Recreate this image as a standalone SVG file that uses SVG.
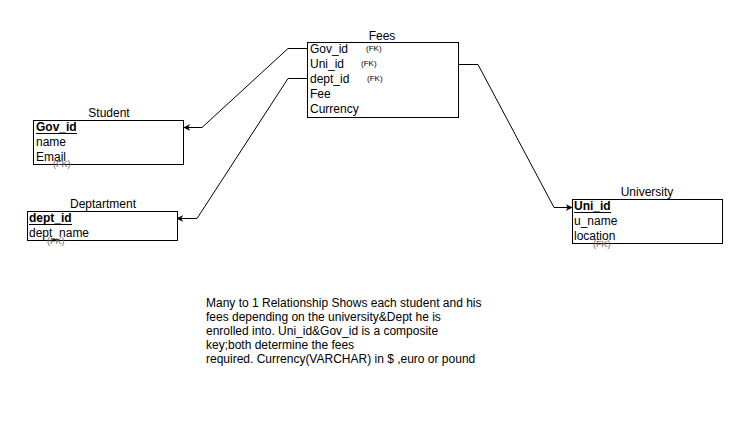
<svg xmlns="http://www.w3.org/2000/svg" width="748" height="426" viewBox="0 0 748 426">
<style>
text{font-family:"Liberation Sans",Arial,sans-serif;font-size:12px;fill:#000}
.box{fill:#fff;stroke:#000;stroke-width:1}
.t{text-anchor:middle}
.k{font-weight:bold}
.fk{font-size:8px}
.gh{font-size:9px;fill:#666}
.c{fill:none;stroke:#000;stroke-width:1}
</style>
<defs>
<marker id="ar" viewBox="0 0 10 10" refX="9" refY="5" markerWidth="7" markerHeight="7" orient="auto-start-reverse" markerUnits="userSpaceOnUse">
<path d="M0,0 L10,5 L0,10 L3,5 Z" fill="#000"/>
</marker>
</defs>
<rect width="748" height="426" fill="#fff"/>
<g id="connectors">
<path class="c" d="M307.5,48.5 H288 L202,127.5 H184" marker-end="url(#ar)"/>
<path class="c" d="M307.5,78.5 H288 L197,218.5 H177" marker-end="url(#ar)"/>
<path class="c" d="M458.5,64.5 H478 L554,207.5 H572" marker-end="url(#ar)"/>
</g>
<g id="fees">
<text class="t" x="382" y="40">Fees</text>
<rect class="box" x="307.5" y="42.5" width="151" height="75"/>
<text x="310" y="53">Gov_id</text><text class="fk" x="366" y="51">(FK)</text>
<text x="310" y="68">Uni_id</text><text class="fk" x="361" y="66">(FK)</text>
<text x="310" y="83">dept_id</text><text class="fk" x="367" y="81">(FK)</text>
<text x="310" y="98">Fee</text>
<text x="310" y="113">Currency</text>
</g>
<g id="student">
<text class="t" x="109" y="117">Student</text>
<rect class="box" x="33.5" y="120.5" width="150" height="44"/>
<text class="k" x="36" y="131">Gov_id</text>
<line x1="36" y1="133.5" x2="77" y2="133.5" stroke="#000"/>
<text x="36" y="146">name</text>
<text x="36" y="161">Email</text>
<text class="gh" x="53" y="167">(FK)</text>
</g>
<g id="department">
<text class="t" x="103" y="208">Deptartment</text>
<rect class="box" x="27.5" y="211.5" width="150" height="29"/>
<text class="k" x="29" y="222">dept_id</text>
<line x1="29" y1="224.5" x2="72" y2="224.5" stroke="#000"/>
<text x="29" y="237">dept_name</text>
<text class="gh" x="47" y="244">(FK)</text>
</g>
<g id="university">
<text class="t" x="647" y="196">University</text>
<rect class="box" x="572.5" y="199.5" width="150" height="44"/>
<text class="k" x="574" y="210">Uni_id</text>
<line x1="574" y1="212.5" x2="611" y2="212.5" stroke="#000"/>
<text x="574" y="225">u_name</text>
<text x="574" y="240">location</text>
<text class="gh" x="593" y="247">(FK)</text>
</g>
<g id="note">
<text x="206" y="307">Many to 1 Relationship Shows each student and his</text>
<text x="206" y="321">fees depending on the university&amp;Dept he is</text>
<text x="206" y="335">enrolled into. Uni_id&amp;Gov_id is a composite</text>
<text x="206" y="349">key;both determine the fees</text>
<text x="206" y="363">required. Currency(VARCHAR) in $ ,euro or pound</text>
</g>
</svg>
